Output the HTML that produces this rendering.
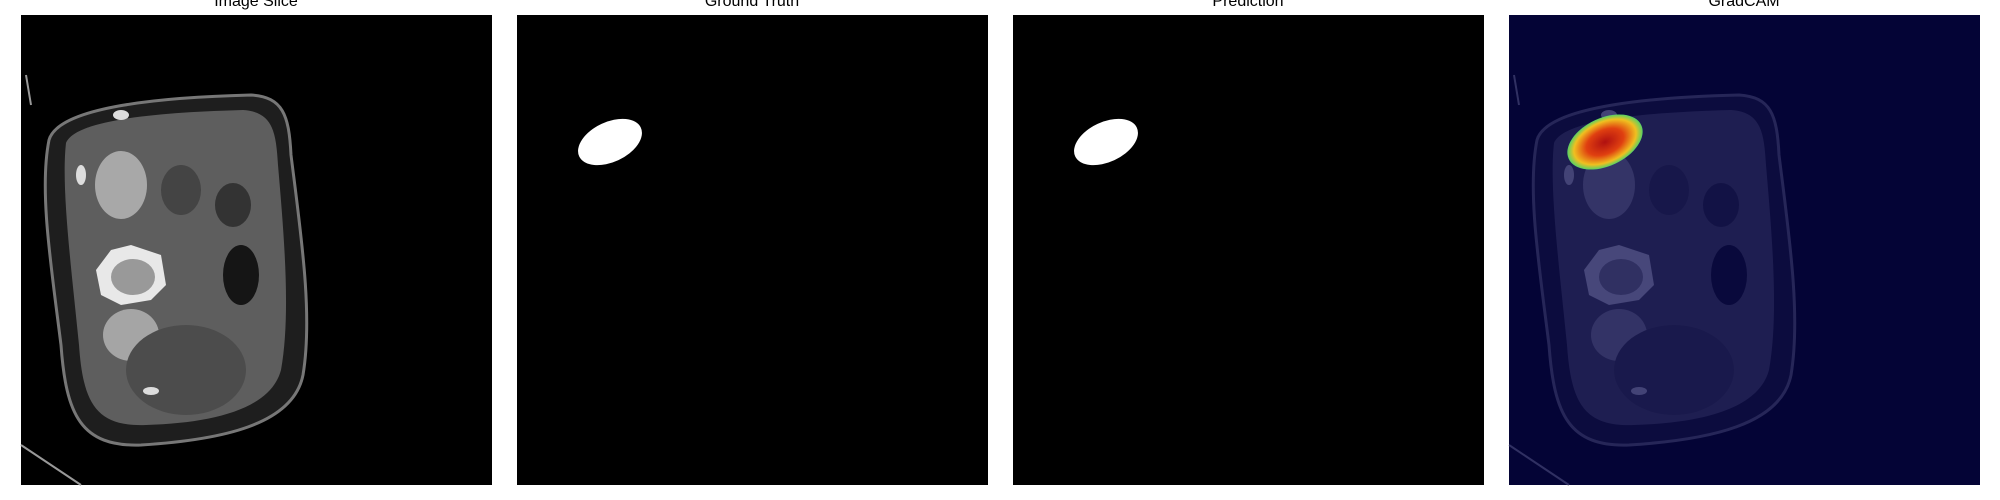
<!DOCTYPE html>
<html><head><meta charset="utf-8"><style>
html,body{margin:0;padding:0;background:#fff;width:2000px;height:500px;overflow:hidden}
svg{display:block}
text{font-family:"Liberation Sans",sans-serif;font-size:16px;fill:#000}
</style></head><body>
<svg width="2000" height="500" viewBox="0 0 2000 500">
<defs>
<radialGradient id="heat" cx="50%" cy="50%" r="55%">
<stop offset="0" stop-color="#b01010"/><stop offset="0.45" stop-color="#e04010"/><stop offset="0.75" stop-color="#f0c020"/><stop offset="0.9" stop-color="#60d060"/><stop offset="1" stop-color="#00a0ff"/>
</radialGradient>
<g id="ct">
<path d="M28,125 C38,90 150,82 230,80 C262,82 268,100 270,140 C280,220 292,300 282,360 C272,410 200,425 120,430 C60,432 45,400 40,330 C30,250 18,175 28,125 Z" fill="#1e1e1e" stroke="#777" stroke-width="3"/>
<path d="M45,128 C55,103 150,97 222,95 C252,97 255,117 257,150 C263,220 270,300 260,355 C250,393 195,408 125,410 C75,412 62,388 58,330 C50,250 40,172 45,128 Z" fill="#5e5e5e"/>
<ellipse cx="100" cy="170" rx="26" ry="34" fill="#a8a8a8"/>
<ellipse cx="110" cy="320" rx="28" ry="26" fill="#a5a5a5"/>
<ellipse cx="165" cy="355" rx="60" ry="45" fill="#4c4c4c"/>
<path d="M75,255 L90,235 L110,230 L140,240 L145,270 L130,285 L100,290 L80,280 Z" fill="#e8e8e8"/>
<ellipse cx="112" cy="262" rx="22" ry="18" fill="#999"/>
<ellipse cx="212" cy="190" rx="18" ry="22" fill="#333"/>
<ellipse cx="220" cy="260" rx="18" ry="30" fill="#151515"/>
<ellipse cx="160" cy="175" rx="20" ry="25" fill="#444"/>
<ellipse cx="100" cy="100" rx="8" ry="5" fill="#ddd"/>
<ellipse cx="130" cy="376" rx="8" ry="4" fill="#ddd"/>
<ellipse cx="60" cy="160" rx="5" ry="10" fill="#ddd"/>
<path d="M5,60 L10,90 M0,430 L60,470" stroke="#999" stroke-width="2" fill="none"/>
</g>
</defs>

<text x="256" y="6" text-anchor="middle">Image Slice</text>
<text x="752" y="6" text-anchor="middle">Ground Truth</text>
<text x="1248" y="6" text-anchor="middle">Prediction</text>
<text x="1744" y="6" text-anchor="middle">GradCAM</text>

<g transform="translate(21,15)">
<rect width="471" height="470" fill="#000"/>
<use href="#ct"/>
</g>

<g transform="translate(517,15)">
<rect width="471" height="470" fill="#000"/>
<ellipse cx="93" cy="127" rx="34" ry="20" transform="rotate(-25 93 127)" fill="#fff"/>
</g>

<g transform="translate(1013,15)">
<rect width="471" height="470" fill="#000"/>
<ellipse cx="93" cy="127" rx="34" ry="20" transform="rotate(-25 93 127)" fill="#fff"/>
</g>

<g transform="translate(1509,15)">
<rect width="471" height="470" fill="#000"/>
<use href="#ct"/>
<rect width="471" height="470" fill="#000040" opacity="0.68"/>
<rect width="471" height="470" fill="#2828a0" opacity="0.1"/>
<ellipse cx="96" cy="127" rx="40" ry="24" transform="rotate(-25 96 127)" fill="url(#heat)"/>
</g>
</svg>
</body></html>
